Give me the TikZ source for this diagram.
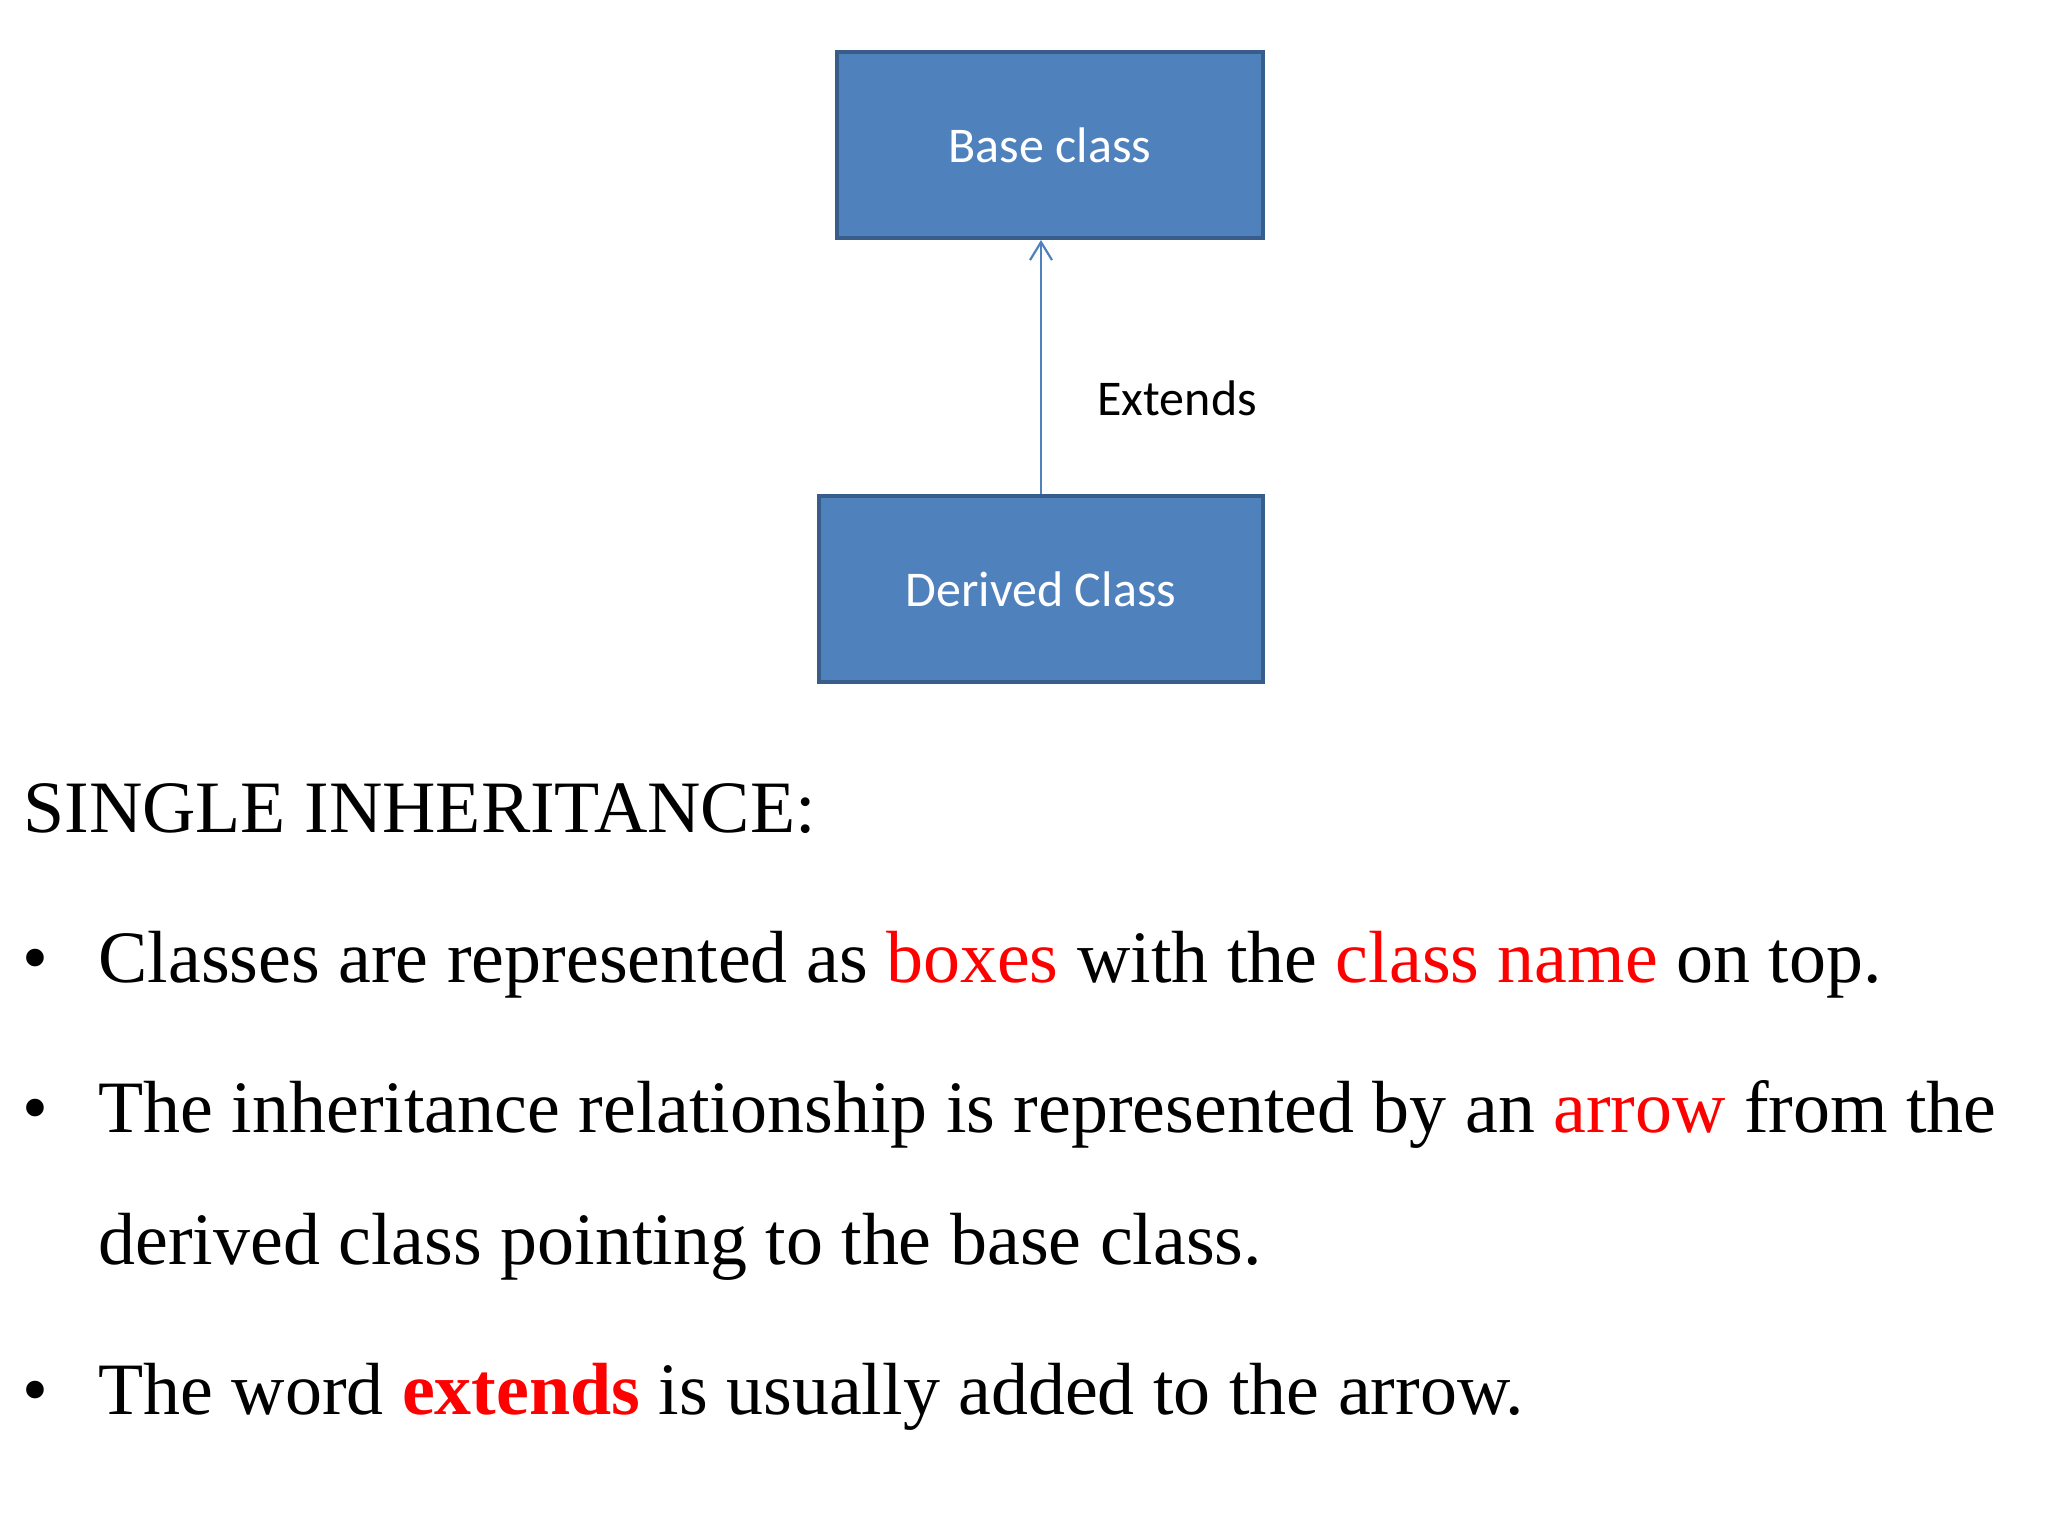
\documentclass[tikz,border=0pt]{standalone}
\usepackage{fontspec}
\setmainfont{Liberation Serif}
\newfontfamily\calib{Carlito}
\usetikzlibrary{arrows.meta}
\definecolor{boxfill}{HTML}{4F81BD}
\definecolor{boxline}{HTML}{385D8A}
\definecolor{hl}{HTML}{FF0000}
\tikzset{
  classbox/.style={draw=boxline, line width=2pt, fill=boxfill, text=white,
    font=\calib\fontsize{25pt}{30pt}\selectfont, minimum height=93pt, inner sep=0pt},
  lbl/.style={font=\calib\fontsize{25pt}{30pt}\selectfont, text=black, anchor=base west, inner sep=0pt},
  body/.style={font=\fontsize{36.95pt}{44pt}\selectfont, anchor=base west, inner sep=0pt},
  bul/.style={font=\fontsize{36.95pt}{44pt}\selectfont, anchor=base, inner sep=0pt},
  inh/.style={draw=boxfill, line width=1.1pt, -{Straight Barb[length=9pt,width=11pt,line width=1.1pt]}}
}
\begin{document}
\begin{tikzpicture}[x=0.5pt,y=-0.5pt]
\useasboundingbox[fill=white] (0,0) rectangle (2048,1536);
\node[classbox, minimum width=213pt] (base) at (1050,145) {Base class};
\node[classbox, minimum width=222pt] (derived) at (1041,589) {Derived Class};
\draw[inh] (derived.north) -- (base.south -| derived.north);
\node[lbl] (ext) at (1097,415) {Extends};
\node[body] (title) at (23,832) {SINGLE INHERITANCE:};
\node[bul] (b1) at (35,982) {•};
\node[body] (l1) at (98,982) {Classes are represented as \textcolor{hl}{boxes} with the \textcolor{hl}{class name} on top.};
\node[bul] (b2) at (35,1132) {•};
\node[body] (l2) at (98,1132) {The inheritance relationship is represented by an \textcolor{hl}{arrow} from the};
\node[body] (l3) at (98,1264) {derived class pointing to the base class.};
\node[bul] (b3) at (35,1414) {•};
\node[body] (l4) at (98,1414) {The word \textcolor{hl}{\bfseries extends} is usually added to the arrow.};
\end{tikzpicture}
\end{document}
